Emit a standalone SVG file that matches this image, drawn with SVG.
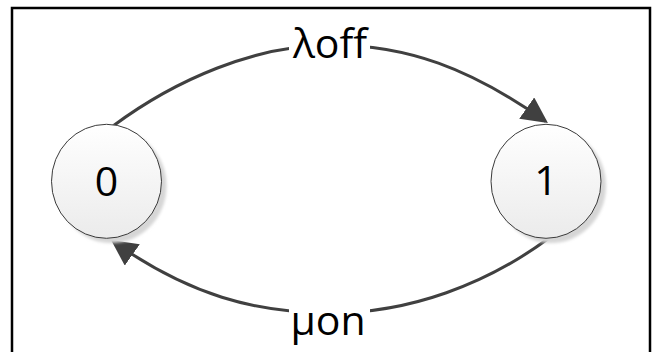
<svg xmlns="http://www.w3.org/2000/svg" width="654" height="352" viewBox="0 0 654 352">
  <defs>
    <linearGradient id="stateFill" x1="0" y1="0" x2="0" y2="1">
      <stop offset="0" stop-color="#ffffff"/>
      <stop offset="1" stop-color="#ebebeb"/>
    </linearGradient>
    <filter id="soft" x="-20%" y="-20%" width="140%" height="140%">
      <feGaussianBlur stdDeviation="1.5"/>
    </filter>
    <marker id="arrow" markerUnits="userSpaceOnUse" markerWidth="26" markerHeight="26" viewBox="0 0 26 26" refX="23" refY="13" orient="auto">
      <path d="M0,0 L26,13 L0,26 z" fill="#404040"/>
    </marker>
    <style>
      .frame { fill: none; stroke: #000; stroke-width: 2.5; }
      .shadow { fill: #d6d6d6; filter: url(#soft); }
      .state { fill: url(#stateFill); stroke: #3a3a3a; stroke-width: 1; }
      .edge { fill: none; stroke: #404040; stroke-width: 3; marker-end: url(#arrow); }
      .txt { font-family: "Open Sans", "Liberation Sans", sans-serif; font-size: 41px; fill: #000; text-anchor: middle; }
      .bg { fill: #fff; }
    </style>
  </defs>

  <rect x="0" y="0" width="654" height="352" fill="#fff"/>
  <!-- outer border, open at the bottom -->
  <path class="frame" d="M12,352 V8 H650 V352"/>

  <!-- transitions -->
  <g id="connectors">
    <path id="edge-0-1" class="edge" d="M113,126 C175,80 255,45 331,45 C407,45 470,68 545.5,121.3"/>
    <path id="edge-1-0" class="edge" d="M549,238 C487,284 410,313 331,313 C255,313 188.5,294.7 113.5,241.7"/>
  </g>

  <!-- transition labels -->
  <g id="label-off">
    <rect class="bg" x="289" y="22" width="81" height="42"/>
    <text class="txt" x="330" y="58">λoff</text>
  </g>
  <g id="label-on">
    <rect class="bg" x="289" y="296" width="81" height="50"/>
    <text class="txt" x="328" y="335">μon</text>
  </g>

  <!-- states -->
  <g id="state-0">
    <ellipse class="shadow" cx="111.5" cy="186" rx="55" ry="57"/>
    <ellipse class="state" cx="106.5" cy="181.3" rx="55" ry="57"/>
    <text class="txt" x="106.5" y="196">0</text>
  </g>
  <g id="state-1">
    <ellipse class="shadow" cx="551" cy="186" rx="55" ry="57"/>
    <ellipse class="state" cx="546" cy="181.3" rx="55" ry="57"/>
    <text class="txt" x="546" y="195">1</text>
  </g>
</svg>
